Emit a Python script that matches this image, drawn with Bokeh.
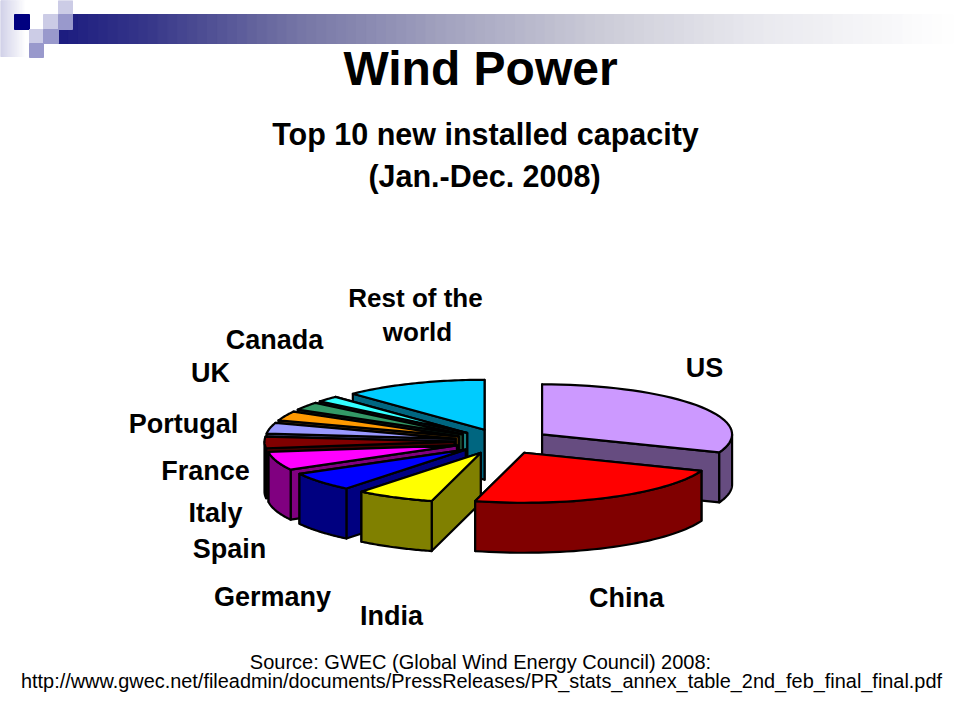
import numpy as np
from bokeh.plotting import figure
from bokeh.models import ColumnDataSource
from bokeh.core.properties import value
from bokeh.embed import file_html
from bokeh.resources import INLINE

# --- data (MW, 2008 new installed capacity, clockwise from 12 o'clock)
categories = ["US", "China", "India", "Germany", "Spain", "Italy", "France",
              "UK", "Portugal", "Canada", "Rest of the world"]
capacity = [8358, 6300, 1800, 1665, 1609, 1010, 950, 836, 712, 526, 3300]
slice_colors = ["#CC99FF", "#FF0000", "#FFFF00", "#0000FF", "#FF00FF", "#800000",
                "#9999FF", "#FF9900", "#339966", "#33FFFF", "#00CCFF"]
title_main = "Wind Power"
title_chart = ["Top 10 new installed capacity", "(Jan.-Dec. 2008)"]
source_lines = ["Source: GWEC (Global Wind Energy Council) 2008:",
                "http://www.gwec.net/fileadmin/documents/PressReleases/PR_stats_annex_table_2nd_feb_final_final.pdf"]

# --- layout: plot coordinates are page pixels
W, H = 960, 720
CX, CY = 502, 441          # pie centre
RX, RY = 190, 50           # ellipse radii of the tilted pie
DEPTH = 50                 # thickness
EXPLODE = 48               # explosion distance along x (scaled by RY/RX on y)
FONT = value("Liberation Sans")

p = figure(width=W, height=H, x_range=(0, W), y_range=(H, 0),
           output_backend="svg", toolbar_location=None, min_border=0,
           background_fill_color="white", border_fill_color="white",
           outline_line_color=None)
p.axis.visible = False
p.grid.visible = False


def mix(c1, c2, t):
    a = np.array(c1, float) * (1 - t) + np.array(c2, float) * t
    return "#%02x%02x%02x" % tuple(int(round(v)) for v in a)


# --- banner decoration
n = 90
edges = np.linspace(58, 952, n + 1)
centers = (edges[:-1] + edges[1:]) / 2
stop_x = [58, 150, 300, 450, 600, 750, 950]
stop_rg = [0x1c, 0x38, 0x76, 0xa4, 0xcc, 0xe8, 0xff]
stop_b = [0x80, 0x8a, 0xa6, 0xc0, 0xd8, 0xee, 0xff]
rg = np.interp(centers, stop_x, stop_rg)
bl = np.interp(centers, stop_x, stop_b)
p.quad(left=edges[:-1], right=edges[1:] + 0.5, top=14, bottom=43,
       color=["#%02x%02x%02x" % (int(a), int(a), int(b)) for a, b in zip(rg, bl)])
m = 25
edges = np.linspace(0, 26, m + 1)
ts = np.linspace(0, 1, m)
p.quad(left=edges[:-1], right=edges[1:] + 0.5, top=0, bottom=56,
       color=[mix((0xd0, 0xd0, 0xe8), (255, 255, 255), t) for t in ts])
p.quad(left=[14], right=[29], top=[14], bottom=[29], color="#000080")
p.quad(left=[43, 58, 29], right=[58, 72, 43], top=[14, 0, 29], bottom=[29, 14, 43], color="#ccccE6")
p.quad(left=[58, 43, 29], right=[72, 58, 43], top=[14, 29, 43], bottom=[29, 43, 57], color="#9999CC")

# --- exploded 3D pie
vals = np.array(capacity, float)
ang = np.concatenate([[0], np.cumsum(vals) / vals.sum() * 2 * np.pi])
draw_order = [10, 9, 8, 7, 6, 5, 4, 3, 2, 0, 1]

for i in draw_order:
    a0, a1 = ang[i], ang[i + 1]
    mid = (a0 + a1) / 2
    ax = CX + EXPLODE * np.sin(mid)
    ay = CY - EXPLODE * RY / RX * np.cos(mid)
    th = np.linspace(a0, a1, 40)
    rim_x = ax + RX * np.sin(th)
    rim_y = ay - RY * np.cos(th)
    top = slice_colors[i]
    rgb = [int(top[k:k + 2], 16) for k in (1, 3, 5)]
    dark = mix(rgb, (0, 0, 0), 0.5)
    xs, ys = [], []
    # cut faces, the one further back first
    ends = (0, -1) if rim_y[0] <= rim_y[-1] else (-1, 0)
    for e in ends:
        xs.append([ax, rim_x[e], rim_x[e], ax])
        ys.append([ay, rim_y[e], rim_y[e] + DEPTH, ay + DEPTH])
    # outer wall, where the rim faces the viewer
    vis = np.linspace(max(a0, np.pi / 2), min(a1, 3 * np.pi / 2), 40)
    if vis[-1] > vis[0]:
        wx = ax + RX * np.sin(vis)
        wy = ay - RY * np.cos(vis)
        xs.append(list(wx) + list(wx[::-1]))
        ys.append(list(wy) + list(wy[::-1] + DEPTH))
    p.patches(xs, ys, fill_color=dark, line_color="black", line_width=2.2, line_join="round")
    p.patch([ax] + list(rim_x), [ay] + list(rim_y),
            fill_color=top, line_color="black", line_width=2.2, line_join="round")

# --- slice labels
label_pos = {"US": (704, 367), "China": (626, 597), "India": (391, 615), "Germany": (272, 596),
             "Spain": (229, 548), "Italy": (215, 512), "France": (205, 470), "UK": (210, 372),
             "Portugal": (183, 423), "Canada": (274, 339)}
lab = ColumnDataSource(dict(x=[label_pos[c][0] for c in categories[:-1]],
                            y=[label_pos[c][1] for c in categories[:-1]],
                            t=categories[:-1]))
common = dict(text_font=FONT, text_font_style="bold", text_align="center",
              text_baseline="middle", text_color="black")
p.text("x", "y", text="t", source=lab, text_font_size="27px", **common)
p.text([415], [297], text=["Rest of the"], text_font_size="26px", **common)
p.text([417], [331], text=["world"], text_font_size="26px", **common)

# --- titles and source
p.text([480], [68], text=[title_main], text_font_size="48px", **common)
p.text([485], [133], text=[title_chart[0]], text_font_size="30.5px", **common)
p.text([484], [175], text=[title_chart[1]], text_font_size="30.5px", **common)
src = dict(common, text_font_style="normal")
p.text([480], [661], text=[source_lines[0]], text_font_size="20px", **src)
p.text([481], [680], text=[source_lines[1]], text_font_size="19.9px", **src)

open("out.html", "w").write(file_html(p, INLINE))
